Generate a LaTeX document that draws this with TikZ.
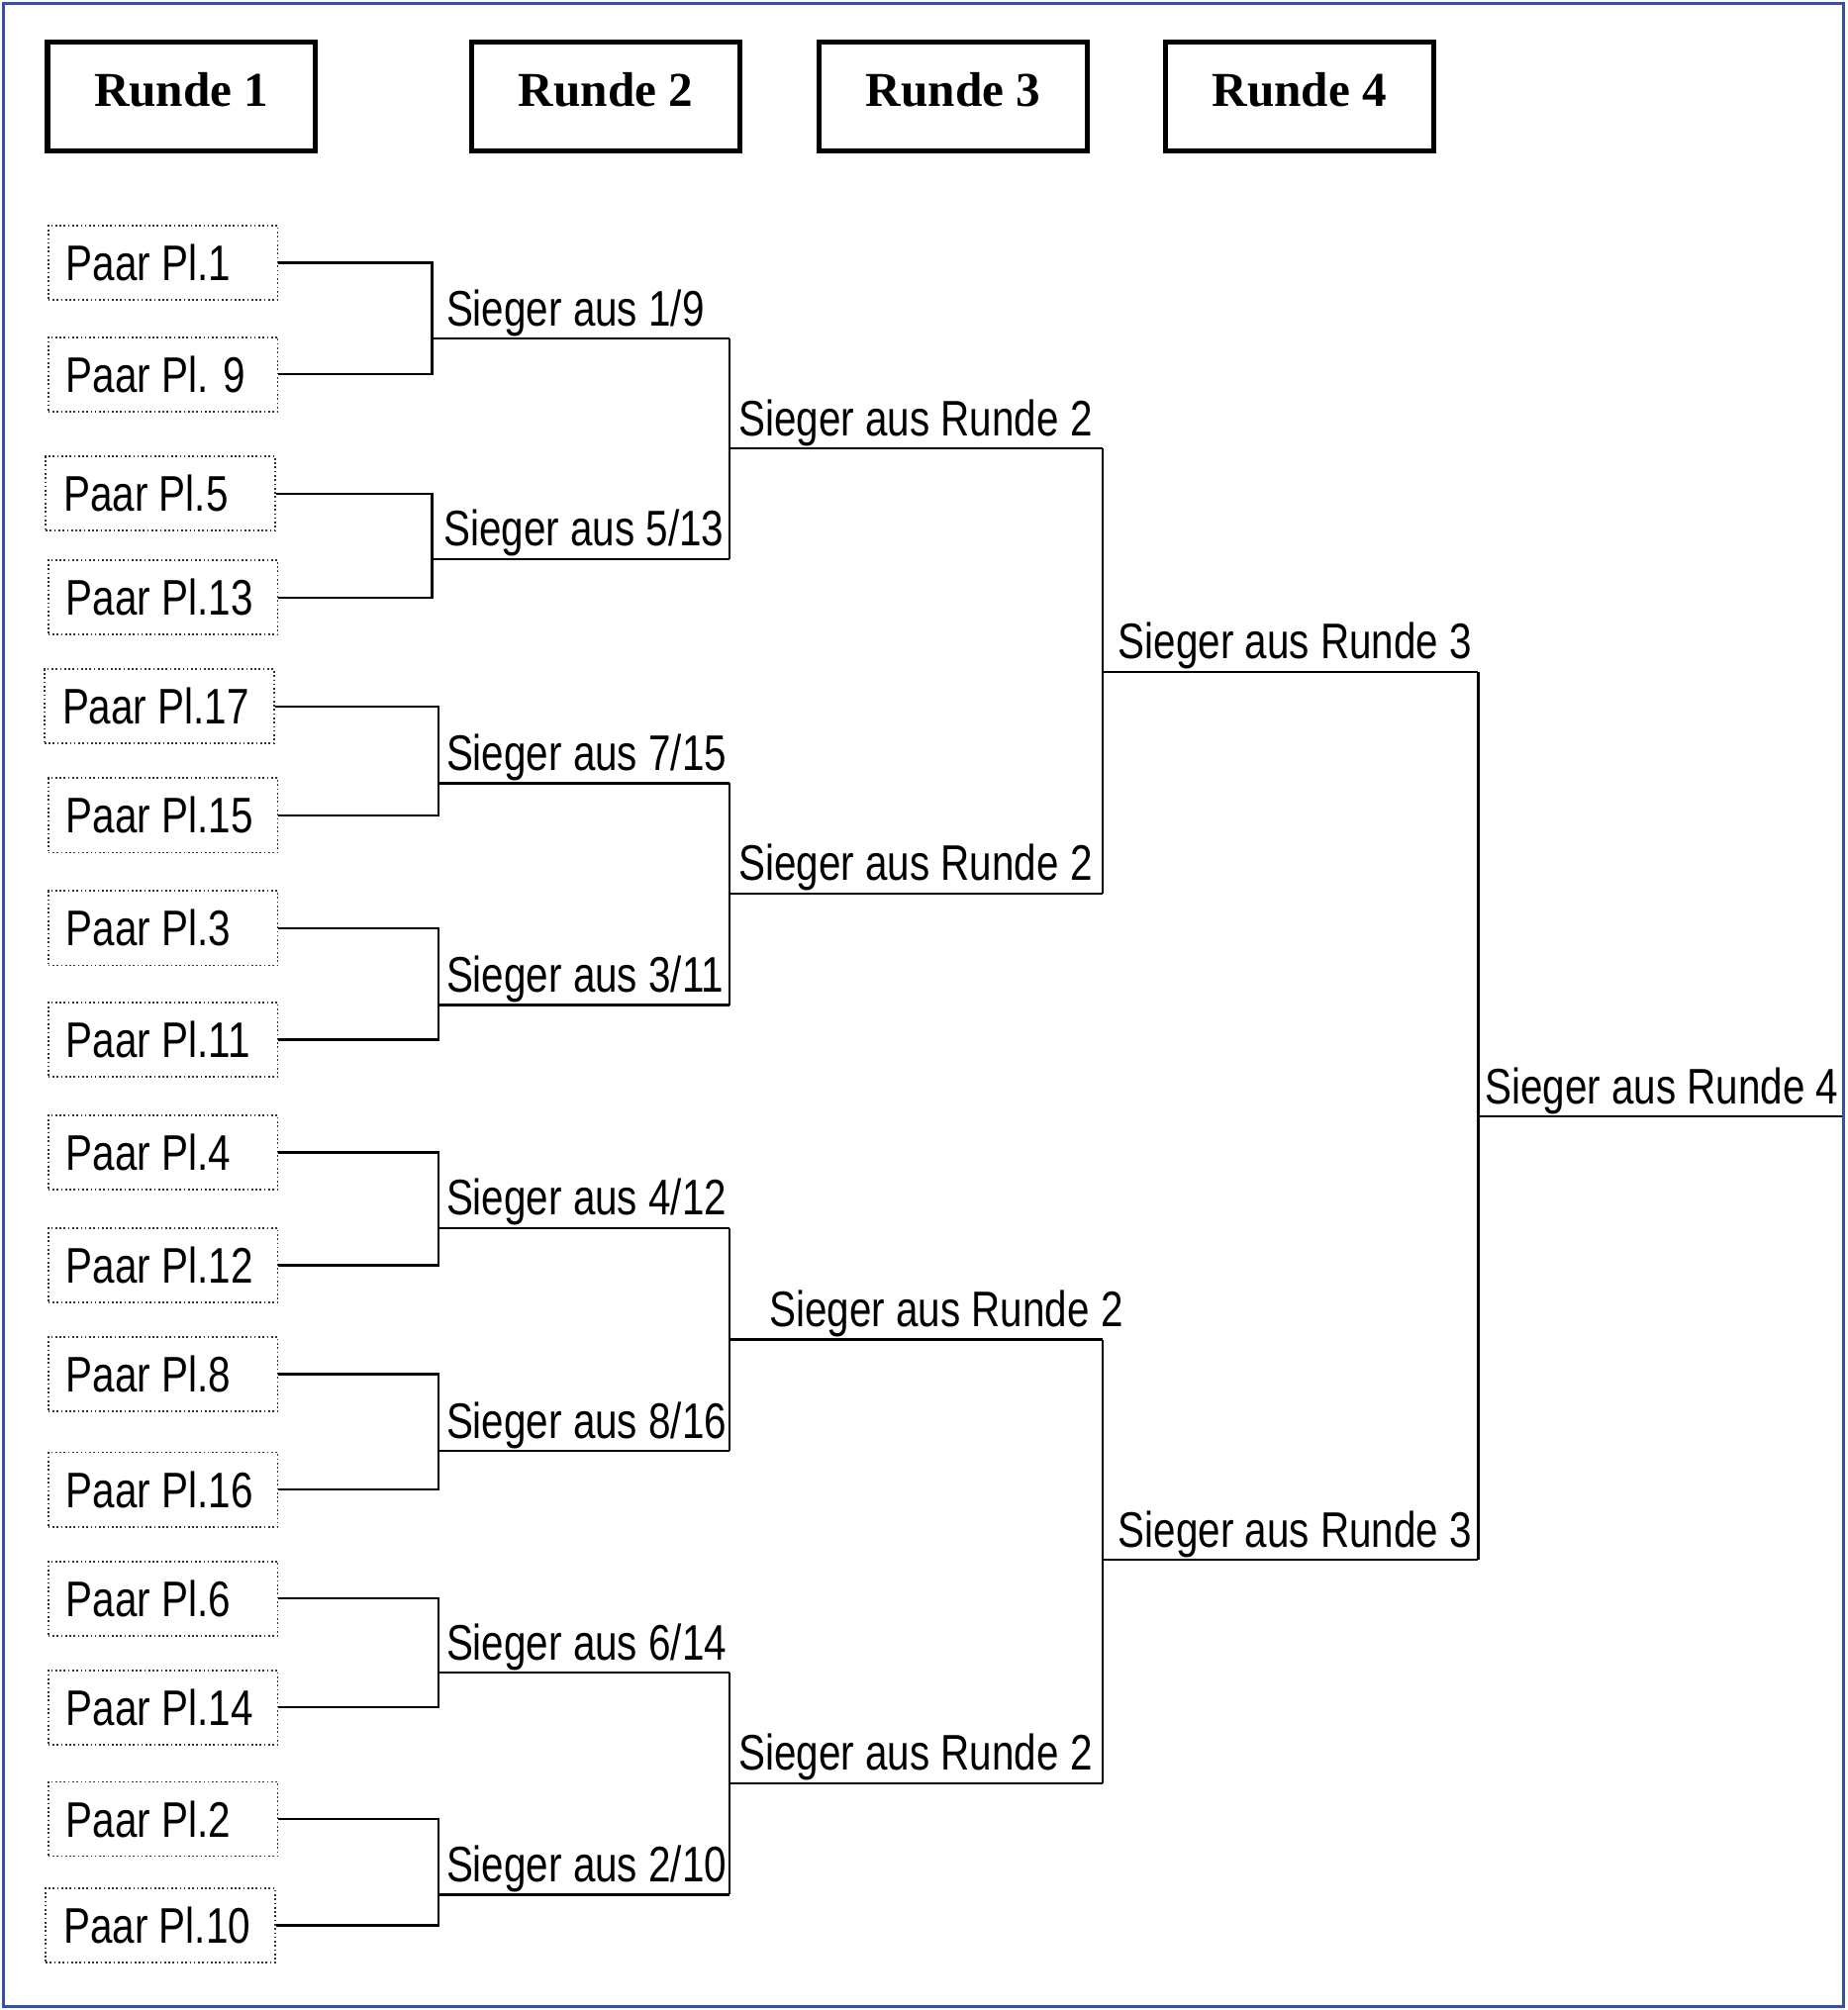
\documentclass[tikz,border=0pt]{standalone}
\usepackage{fontspec}
\setmainfont{Liberation Serif}
\newfontfamily\narrowsans[FakeStretch=0.8]{Liberation Sans}
\definecolor{frameblue}{RGB}{55,80,165}
\newcommand\pairtxt[1]{\makebox[151pt][l]{#1}}
\begin{document}
\begin{tikzpicture}[x=1pt,y=-1pt,
  hdr/.style={draw, line width=4pt, minimum width=209pt, minimum height=85pt, inner sep=0pt,
    font=\fontsize{38}{42}\selectfont\bfseries, text depth=11pt},
  pair/.style={draw=black!80, dotted, line width=1.3pt, anchor=west, minimum height=58pt,
    inner xsep=14pt, inner ysep=0pt,
    font=\narrowsans\fontsize{39}{42}\selectfont, text height=28pt, text depth=0pt},
  lbl/.style={anchor=base west, inner sep=0pt, font=\narrowsans\fontsize{39}{42}\selectfont},
  conn/.style={draw=black, line width=1.7pt}]
\useasboundingbox (0,0) rectangle (1441,1568);
\draw[frameblue, line width=2.2pt] (3,3) rectangle (1438,1565);

% header boxes
\node[hdr] (h1) at (141.5,75.5) {Runde 1};
\node[hdr] (h2) at (472.5,75.5) {Runde 2};
\node[hdr] (h3) at (743.5,75.5) {Runde 3};
\node[hdr] (h4) at (1013.5,75.5) {Runde 4};

% pairs
\node[pair] (p1)  at (37,205)  {\pairtxt{Paar Pl.1}};
\node[pair] (p9)  at (37,292)  {\pairtxt{Paar Pl. 9}};
\node[pair] (p5)  at (35,385)  {\pairtxt{Paar Pl.5}};
\node[pair] (p13) at (37,466)  {\pairtxt{Paar Pl.13}};
\node[pair] (p17) at (34,551)  {\pairtxt{Paar Pl.17}};
\node[pair] (p15) at (37,636)  {\pairtxt{Paar Pl.15}};
\node[pair] (p3)  at (37,724)  {\pairtxt{Paar Pl.3}};
\node[pair] (p11) at (37,811)  {\pairtxt{Paar Pl.11}};
\node[pair] (p4)  at (37,899)  {\pairtxt{Paar Pl.4}};
\node[pair] (p12) at (37,987)  {\pairtxt{Paar Pl.12}};
\node[pair] (p8)  at (37,1072) {\pairtxt{Paar Pl.8}};
\node[pair] (p16) at (37,1162) {\pairtxt{Paar Pl.16}};
\node[pair] (p6)  at (37,1247) {\pairtxt{Paar Pl.6}};
\node[pair] (p14) at (37,1332) {\pairtxt{Paar Pl.14}};
\node[pair] (p2)  at (37,1419) {\pairtxt{Paar Pl.2}};
\node[pair] (p10) at (35,1502) {\pairtxt{Paar Pl.10}};

% round 1 junctions
\coordinate (m1) at (337,264);  \coordinate (m1e) at (569,264);
\coordinate (m2) at (337,436);  \coordinate (m2e) at (569,436);
\coordinate (m3) at (342,611);  \coordinate (m3e) at (569,611);
\coordinate (m4) at (342,784);  \coordinate (m4e) at (569,784);
\coordinate (m5) at (342,958);  \coordinate (m5e) at (569,958);
\coordinate (m6) at (342,1132); \coordinate (m6e) at (569,1132);
\coordinate (m7) at (342,1305); \coordinate (m7e) at (569,1305);
\coordinate (m8) at (342,1478); \coordinate (m8e) at (569,1478);
% round 2 junctions
\coordinate (ra) at (569,350);  \coordinate (rae) at (860,350);
\coordinate (rb) at (569,697);  \coordinate (rbe) at (860,697);
\coordinate (rc) at (569,1045); \coordinate (rce) at (860,1045);
\coordinate (rd) at (569,1391); \coordinate (rde) at (860,1391);
% round 3 junctions
\coordinate (se) at (860,524);  \coordinate (see) at (1153,524);
\coordinate (sf) at (860,1217); \coordinate (sfe) at (1153,1217);
% round 4
\coordinate (fw) at (1153,871); \coordinate (fwe) at (1437,871);

% connectors round 1
\draw[conn] (p1.east) -| (m1) -- (m1e);  \draw[conn] (p9.east) -| (m1);
\draw[conn] (p5.east) -| (m2) -- (m2e);  \draw[conn] (p13.east) -| (m2);
\draw[conn] (p17.east) -| (m3) -- (m3e); \draw[conn] (p15.east) -| (m3);
\draw[conn] (p3.east) -| (m4) -- (m4e);  \draw[conn] (p11.east) -| (m4);
\draw[conn] (p4.east) -| (m5) -- (m5e);  \draw[conn] (p12.east) -| (m5);
\draw[conn] (p8.east) -| (m6) -- (m6e);  \draw[conn] (p16.east) -| (m6);
\draw[conn] (p6.east) -| (m7) -- (m7e);  \draw[conn] (p14.east) -| (m7);
\draw[conn] (p2.east) -| (m8) -- (m8e);  \draw[conn] (p10.east) -| (m8);
% round 2
\draw[conn] (m1e) -- (m2e); \draw[conn] (ra) -- (rae);
\draw[conn] (m3e) -- (m4e); \draw[conn] (rb) -- (rbe);
\draw[conn] (m5e) -- (m6e); \draw[conn] (rc) -- (rce);
\draw[conn] (m7e) -- (m8e); \draw[conn] (rd) -- (rde);
% round 3
\draw[conn] (rae) -- (rbe); \draw[conn] (se) -- (see);
\draw[conn] (rce) -- (rde); \draw[conn] (sf) -- (sfe);
% round 4
\draw[conn] (see) -- (sfe); \draw[conn] (fw) -- (fwe);

% labels
\node[lbl] (l1) at (348,254)  {Sieger aus 1/9};
\node[lbl] (l2) at (346,426)  {Sieger aus 5/13};
\node[lbl] (l3) at (348,601)  {Sieger aus 7/15};
\node[lbl] (l4) at (348,774)  {Sieger aus 3/11};
\node[lbl] (l5) at (348,948)  {Sieger aus 4/12};
\node[lbl] (l6) at (348,1122) {Sieger aus 8/16};
\node[lbl] (l7) at (348,1295) {Sieger aus 6/14};
\node[lbl] (l8) at (348,1468) {Sieger aus 2/10};
\node[lbl] (la) at (576,340)  {Sieger aus Runde 2};
\node[lbl] (lb) at (576,687)  {Sieger aus Runde 2};
\node[lbl] (lc) at (600,1035) {Sieger aus Runde 2};
\node[lbl] (ld) at (576,1381) {Sieger aus Runde 2};
\node[lbl] (le) at (872,514)  {Sieger aus Runde 3};
\node[lbl] (lf) at (872,1207) {Sieger aus Runde 3};
\node[lbl] (lg) at (1158,861) {Sieger aus Runde 4};
\end{tikzpicture}
\end{document}
